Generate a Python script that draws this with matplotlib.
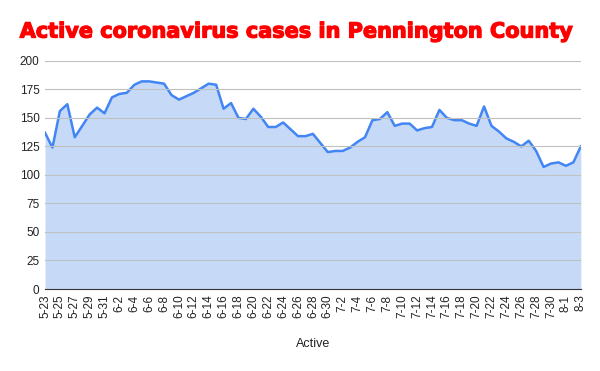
import matplotlib
matplotlib.use("Agg")
import matplotlib.pyplot as plt
import matplotlib.patheffects as pe
import numpy as np
import datetime as dt

# active cases, one per day from 5-23 to 8-3
start = dt.date(2020, 5, 23)
active = [137, 124, 156, 162, 133, 143, 153, 159, 154, 168,
          171, 172, 179, 182, 182, 181, 180, 170, 166, 169,
          172, 176, 180, 179, 158, 163, 150, 149, 158, 151,
          142, 142, 146, 140, 134, 134, 136, 128, 120, 121,
          121, 124, 129, 133, 148, 149, 155, 143, 145, 145,
          139, 141, 142, 157, 150, 148, 148, 145, 143, 160,
          143, 138, 132, 129, 125, 130, 121, 107, 110, 111,
          108, 111, 125]
dates = [start + dt.timedelta(days=i) for i in range(len(active))]
labels = ['%d-%d' % (d.month, d.day) for d in dates]
yticks = np.arange(0, 201, 25)

plt.rcParams['font.family'] = ['Liberation Sans', 'DejaVu Sans']

fig = plt.figure(figsize=(6, 3.71), dpi=100)
ax = fig.add_axes([0.075, 0.221, 0.893, 0.615])

x = np.arange(len(active))
ax.fill_between(x, active, 0, color='#c6daf8', lw=0)
ax.plot(x, active, color='#4285f4', lw=1.8)

ax.set_xlim(0, len(active) - 1)
ax.set_ylim(0, 200)
ax.set_yticks(yticks)
ax.set_yticklabels([str(v) for v in yticks], fontsize=8.5, color='#222222')
ax.set_xticks(x[::2])
ax.set_xticklabels(labels[::2], rotation=90, fontsize=8.5, color='#222222')
ax.tick_params(length=0, pad=4)

ax.grid(axis='y', color='#c0c0c0', lw=0.8)
ax.set_axisbelow(False)
for s in ['top', 'right', 'left']:
    ax.spines[s].set_visible(False)
ax.spines['bottom'].set_color('#333333')
ax.spines['bottom'].set_zorder(5)

ax.set_xlabel('Active', fontsize=9, color='#222222', labelpad=14)
fig.text(0.495, 0.915, 'Active coronavirus cases in Pennington County',
         ha='center', va='center', color='#ff0000', fontsize=15,
         fontweight='heavy', family='DejaVu Sans',
         path_effects=[pe.withStroke(linewidth=0.9, foreground='#ff0000')])

fig.savefig('out.png', dpi=100)
